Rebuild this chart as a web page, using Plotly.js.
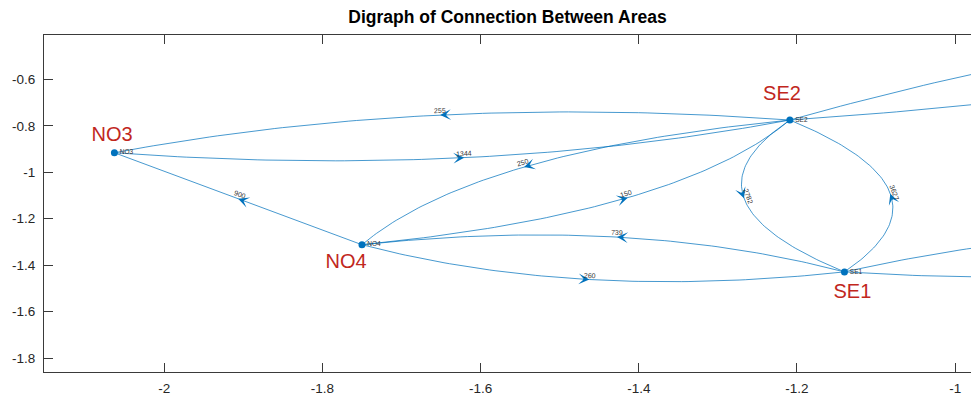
<!DOCTYPE html>
<html><head><meta charset="utf-8">
<script src="https://cdn.plot.ly/plotly-3.0.1.min.js"></script>
<style>html,body{margin:0;padding:0;overflow:hidden;background:#fff}</style>
</head><body><div id="chart" style="width:971px;height:398px"></div>
<script>
// ---------------- data ----------------
const chartTitle = 'Digraph of Connection Between Areas';
const nodeNames = ['NO3', 'NO4', 'SE1', 'SE2', 'SE3', 'FI'];
const nodeX = [-2.063, -1.750, -1.140, -1.209, -0.02, -0.35];
const nodeY = [-0.916, -1.312, -1.429, -0.775, -0.13, -1.251];
const edgeSource = ['SE2', 'NO3', 'NO4', 'SE2', 'NO4', 'SE1', 'NO4', 'SE2', 'SE1', 'SE2', 'SE3', 'SE1', 'FI'];
const edgeTarget = ['NO3', 'SE2', 'NO3', 'NO4', 'SE2', 'NO4', 'SE1', 'SE1', 'SE2', 'SE3', 'SE2', 'FI', 'SE1'];
const edgeWeight = [255, 1344, 900, 250, 150, 739, 260, 2782, 3627, null, null, null, null];
const areaLabels = ['NO3', 'NO4', 'SE2', 'SE1'];
const areaLabelX = [-2.066, -1.770, -1.219, -1.130];
const areaLabelY = [-0.842, -1.389, -0.669, -1.519];
const xTickVals = [-2, -1.8, -1.6, -1.4, -1.2, -1];
const xTickLabels = ['-2', '-1.8', '-1.6', '-1.4', '-1.2', '-1'];
const yTickVals = [-1.8, -1.6, -1.4, -1.2, -1, -0.8, -0.6];
const yTickLabels = ['-1.8', '-1.6', '-1.4', '-1.2', '-1', '-0.8', '-0.6'];

// ---------------- style / layout ----------------
const W = 971, H = 398;
const M = {l: 44, r: 0, t: 35, b: 26};
const xRange = [-2.152, -0.98], yRange = [-1.86, -0.409];
const BEND = 0.093;            // midpoint offset of paired (two-way) edges, data units
const EDGE_COLOR = 'rgba(0,114,189,0.72)';
const NODE_COLOR = '#0072BD';
const AXIS_COLOR = '#3a3a3a';
const FONT = 'Liberation Sans, Arial, Helvetica, sans-serif';

const kx = (W - M.l - M.r) / (xRange[1] - xRange[0]);
const ky = (H - M.t - M.b) / (yRange[1] - yRange[0]);
const idx = n => nodeNames.indexOf(n);
const inView = (x, y) => x >= xRange[0] && x <= xRange[1] && y >= yRange[0] && y <= yRange[1];

const ex = [], ey = [];
const annotations = [];
for (let i = 0; i < edgeSource.length; i++) {
  const a = idx(edgeSource[i]), b = idx(edgeTarget[i]);
  const Ax = nodeX[a], Ay = nodeY[a], Bx = nodeX[b], By = nodeY[b];
  const dx = Bx - Ax, dy = By - Ay, len = Math.hypot(dx, dy);
  let paired = false;
  for (let j = 0; j < edgeSource.length; j++)
    if (edgeSource[j] === edgeTarget[i] && edgeTarget[j] === edgeSource[i]) paired = true;
  const off = paired ? BEND : 0;
  const nx = dy / len, ny = -dx / len;   // right-hand side of travel
  const N = 80;
  for (let k = 0; k <= N; k++) {
    const t = k / N, f = 4 * t * (1 - t) * off;
    ex.push(Ax + t * dx + f * nx);
    ey.push(Ay + t * dy + f * ny);
  }
  ex.push(null); ey.push(null);
  const mx = Ax + dx / 2 + off * nx, my = Ay + dy / 2 + off * ny;
  if (!inView(mx, my)) continue;
  let sx = dx * kx, sy = -dy * ky;
  const sl = Math.hypot(sx, sy); sx /= sl; sy /= sl;
  annotations.push({
    x: mx, y: my, xref: 'x', yref: 'y', text: '', showarrow: true,
    ax: -sx * 8, ay: -sy * 8, arrowhead: 3, arrowsize: 1.8, arrowwidth: 1,
    arrowcolor: NODE_COLOR, standoff: 0
  });
  if (edgeWeight[i] !== null) {
    let ang = Math.atan2(sy, sx) * 180 / Math.PI;
    if (ang > 90) ang -= 180;
    if (ang <= -90) ang += 180;
    const r = ang * Math.PI / 180;
    annotations.push({
      x: mx, y: my, xref: 'x', yref: 'y', text: String(edgeWeight[i]), showarrow: false,
      textangle: ang, font: {family: FONT, size: 7, color: '#333'},
      xshift: 4.5 * Math.sin(r), yshift: 4.5 * Math.cos(r)
    });
  }
}

const nodeText = nodeNames.map((n, i) => inView(nodeX[i], nodeY[i]) ? n : '');

const traces = [
  {x: ex, y: ey, mode: 'lines', type: 'scatter', line: {color: EDGE_COLOR, width: 1},
   hoverinfo: 'skip', showlegend: false},
  {x: nodeX, y: nodeY, text: nodeText, mode: 'markers+text', type: 'scatter',
   marker: {color: NODE_COLOR, size: 7}, textposition: 'middle right',
   textfont: {family: FONT, size: 6.5, color: '#333'}, showlegend: false},
  {x: areaLabelX, y: areaLabelY, text: areaLabels, mode: 'text', type: 'scatter',
   textfont: {family: FONT, size: 20, color: '#C1271D'}, showlegend: false}
];

const axisCommon = {
  showgrid: false, zeroline: false, showline: true, linecolor: AXIS_COLOR, linewidth: 1,
  ticks: 'inside', ticklen: 9, tickcolor: AXIS_COLOR, tickwidth: 1,
  tickfont: {family: FONT, size: 13.5, color: '#262626'}
};
const layout = {
  width: W, height: H, margin: M, paper_bgcolor: '#fff', plot_bgcolor: '#fff',
  title: {text: '<b>' + chartTitle + '</b>', x: 0.5, xref: 'paper', xanchor: 'center',
          y: 1 - 17 / H, yref: 'container', yanchor: 'middle',
          font: {family: FONT, size: 17.5, color: '#000'}},
  xaxis: Object.assign({}, axisCommon, {range: xRange, tickvals: xTickVals, ticktext: xTickLabels,
          mirror: 'ticks', ticklabelstandoff: 4}),
  yaxis: Object.assign({}, axisCommon, {range: yRange, tickvals: yTickVals, ticktext: yTickLabels,
          mirror: false, ticklabelstandoff: 5}),
  annotations: annotations,
  showlegend: false
};
Plotly.newPlot('chart', traces, layout, {staticPlot: true});
</script></body></html>
